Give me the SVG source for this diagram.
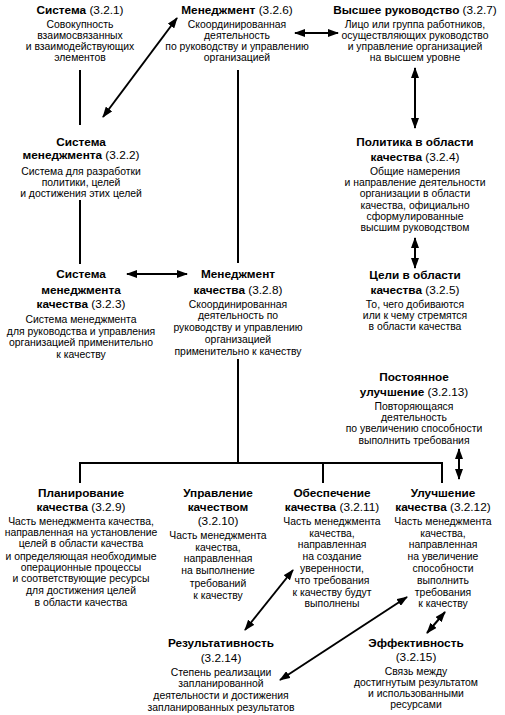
<svg xmlns="http://www.w3.org/2000/svg" width="505" height="715" viewBox="0 0 505 715">
<defs>
<marker id="ah" markerUnits="userSpaceOnUse" markerWidth="11" markerHeight="8" refX="10" refY="4" orient="auto-start-reverse" viewBox="0 0 11 8">
<path d="M0,0 L11,4 L0,8 z" fill="#000"/>
</marker>
<style>
text{font-family:"Liberation Sans",Arial,sans-serif;fill:#000;text-anchor:middle}
.t{font-size:11.8px}
.t .bd{font-weight:bold}
.b{font-size:10.4px}
.ln{stroke:#000;stroke-width:2;fill:none}
.ar{stroke:#000;stroke-width:2;fill:none;marker-start:url(#ah);marker-end:url(#ah)}
</style>
</defs>
<rect width="505" height="715" fill="#fff"/>
<g id="connectors">
<line class="ln" x1="80" y1="70" x2="80" y2="125"/>
<line class="ln" x1="80" y1="200" x2="80" y2="264"/>
<line class="ln" x1="238" y1="70" x2="238" y2="263"/>
<line class="ln" x1="238" y1="359" x2="238" y2="463"/>
<polyline class="ln" points="80,483 80,463 442,463 442,483"/>
<line class="ln" x1="323" y1="463" x2="323" y2="483"/>
<line class="ar" x1="103" y1="117" x2="177" y2="18"/>
<line class="ar" x1="295" y1="33" x2="338" y2="33"/>
<line class="ar" x1="415" y1="68" x2="415" y2="128"/>
<line class="ar" x1="415" y1="238" x2="415" y2="268"/>
<line class="ar" x1="127" y1="274" x2="187" y2="274"/>
<line class="ar" x1="459" y1="449" x2="459" y2="479"/>
<line class="ar" x1="245" y1="630" x2="293" y2="570"/>
<line class="ar" x1="280" y1="680" x2="407" y2="597"/>
<line class="ar" x1="427" y1="633" x2="445" y2="612"/>
</g>
<g id="n321">
<text class="t" x="80" y="14"><tspan class="bd">Система</tspan> (3.2.1)</text>
<text class="b" x="80" y="28">Совокупность</text>
<text class="b" x="80" y="39">взаимосвязанных</text>
<text class="b" x="80" y="50">и взаимодействующих</text>
<text class="b" x="80" y="61">элементов</text>
</g>
<g id="n326">
<text class="t" x="237" y="14"><tspan class="bd">Менеджмент</tspan> (3.2.6)</text>
<text class="b" x="237" y="28">Скоординированная</text>
<text class="b" x="237" y="39">деятельность</text>
<text class="b" x="237" y="50">по руководству и управлению</text>
<text class="b" x="237" y="61">организацией</text>
</g>
<g id="n327">
<text class="t" x="415" y="14"><tspan class="bd">Высшее руководство</tspan> (3.2.7)</text>
<text class="b" x="415" y="28">Лицо или группа работников,</text>
<text class="b" x="415" y="39">осуществляющих руководство</text>
<text class="b" x="415" y="50">и управление организацией</text>
<text class="b" x="415" y="61">на высшем уровне</text>
</g>
<g id="n322">
<text class="t" x="81" y="146"><tspan class="bd">Система</tspan></text>
<text class="t" x="81" y="159"><tspan class="bd">менеджмента</tspan> (3.2.2)</text>
<text class="b" x="81" y="175">Система для разработки</text>
<text class="b" x="81" y="186">политики, целей</text>
<text class="b" x="81" y="197">и достижения этих целей</text>
</g>
<g id="n324">
<text class="t" x="415" y="146"><tspan class="bd">Политика в области</tspan></text>
<text class="t" x="415" y="161"><tspan class="bd">качества</tspan> (3.2.4)</text>
<text class="b" x="415" y="175">Общие намерения</text>
<text class="b" x="415" y="186">и направление деятельности</text>
<text class="b" x="415" y="197">организации в области</text>
<text class="b" x="415" y="209">качества, официально</text>
<text class="b" x="415" y="220">сформулированные</text>
<text class="b" x="415" y="231">высшим руководством</text>
</g>
<g id="n325">
<text class="t" x="415" y="279"><tspan class="bd">Цели в области</tspan></text>
<text class="t" x="415" y="294"><tspan class="bd">качества</tspan> (3.2.5)</text>
<text class="b" x="415" y="308">То, чего добиваются</text>
<text class="b" x="415" y="319">или к чему стремятся</text>
<text class="b" x="415" y="330">в области качества</text>
</g>
<g id="n323">
<text class="t" x="81" y="278"><tspan class="bd">Система</tspan></text>
<text class="t" x="81" y="294"><tspan class="bd">менеджмента</tspan></text>
<text class="t" x="81" y="308"><tspan class="bd">качества</tspan> (3.2.3)</text>
<text class="b" x="81" y="323">Система менеджмента</text>
<text class="b" x="81" y="335">для руководства и управления</text>
<text class="b" x="81" y="346">организацией применительно</text>
<text class="b" x="81" y="358">к качеству</text>
</g>
<g id="n328">
<text class="t" x="238" y="278"><tspan class="bd">Менеджмент</tspan></text>
<text class="t" x="238" y="294"><tspan class="bd">качества</tspan> (3.2.8)</text>
<text class="b" x="238" y="308">Скоординированная</text>
<text class="b" x="238" y="319">деятельность по</text>
<text class="b" x="238" y="331">руководству и управлению</text>
<text class="b" x="238" y="343">организацией</text>
<text class="b" x="238" y="355">применительно к качеству</text>
</g>
<g id="n3213">
<text class="t" x="414" y="381"><tspan class="bd">Постоянное</tspan></text>
<text class="t" x="414" y="396"><tspan class="bd">улучшение</tspan> (3.2.13)</text>
<text class="b" x="414" y="410">Повторяющаяся</text>
<text class="b" x="414" y="421">деятельность</text>
<text class="b" x="414" y="432">по увеличению способности</text>
<text class="b" x="414" y="444">выполнить требования</text>
</g>
<g id="n329">
<text class="t" x="81" y="497"><tspan class="bd">Планирование</tspan></text>
<text class="t" x="81" y="511"><tspan class="bd">качества</tspan> (3.2.9)</text>
<text class="b" x="81" y="525">Часть менеджмента качества,</text>
<text class="b" x="81" y="536">направленная на установление</text>
<text class="b" x="81" y="547">целей в области качества</text>
<text class="b" x="81" y="560">и определяющая необходимые</text>
<text class="b" x="81" y="571">операционные процессы</text>
<text class="b" x="81" y="582">и соответствующие ресурсы</text>
<text class="b" x="81" y="594">для достижения целей</text>
<text class="b" x="81" y="606">в области качества</text>
</g>
<g id="n3210">
<text class="t" x="218" y="497"><tspan class="bd">Управление</tspan></text>
<text class="t" x="218" y="511"><tspan class="bd">качеством</tspan></text>
<text class="t" x="218" y="525">(3.2.10)</text>
<text class="b" x="218" y="539">Часть менеджмента</text>
<text class="b" x="218" y="551">качества,</text>
<text class="b" x="218" y="562">направленная</text>
<text class="b" x="218" y="574">на выполнение</text>
<text class="b" x="218" y="587">требований</text>
<text class="b" x="218" y="599">к качеству</text>
</g>
<g id="n3211">
<text class="t" x="332" y="497"><tspan class="bd">Обеспечение</tspan></text>
<text class="t" x="332" y="511"><tspan class="bd">качества</tspan> (3.2.11)</text>
<text class="b" x="332" y="525">Часть менеджмента</text>
<text class="b" x="332" y="537">качества,</text>
<text class="b" x="332" y="548">направленная</text>
<text class="b" x="332" y="560">на создание</text>
<text class="b" x="332" y="572">уверенности,</text>
<text class="b" x="332" y="584">что требования</text>
<text class="b" x="332" y="596">к качеству будут</text>
<text class="b" x="332" y="607">выполнены</text>
</g>
<g id="n3212">
<text class="t" x="443" y="497"><tspan class="bd">Улучшение</tspan></text>
<text class="t" x="443" y="511"><tspan class="bd">качества</tspan> (3.2.12)</text>
<text class="b" x="443" y="525">Часть менеджмента</text>
<text class="b" x="443" y="537">качества,</text>
<text class="b" x="443" y="548">направленная</text>
<text class="b" x="443" y="560">на увеличение</text>
<text class="b" x="443" y="572">способности</text>
<text class="b" x="443" y="584">выполнить</text>
<text class="b" x="443" y="596">требования</text>
<text class="b" x="443" y="607">к качеству</text>
</g>
<g id="n3214">
<text class="t" x="221" y="647"><tspan class="bd">Результативность</tspan></text>
<text class="t" x="221" y="662">(3.2.14)</text>
<text class="b" x="221" y="676">Степень реализации</text>
<text class="b" x="221" y="687">запланированной</text>
<text class="b" x="221" y="699">деятельности и достижения</text>
<text class="b" x="221" y="711">запланированных результатов</text>
</g>
<g id="n3215">
<text class="t" x="416" y="647"><tspan class="bd">Эффективность</tspan></text>
<text class="t" x="416" y="661">(3.2.15)</text>
<text class="b" x="416" y="675">Связь между</text>
<text class="b" x="416" y="686">достигнутым результатом</text>
<text class="b" x="416" y="697">и использованными</text>
<text class="b" x="416" y="708">ресурсами</text>
</g>
</svg>
